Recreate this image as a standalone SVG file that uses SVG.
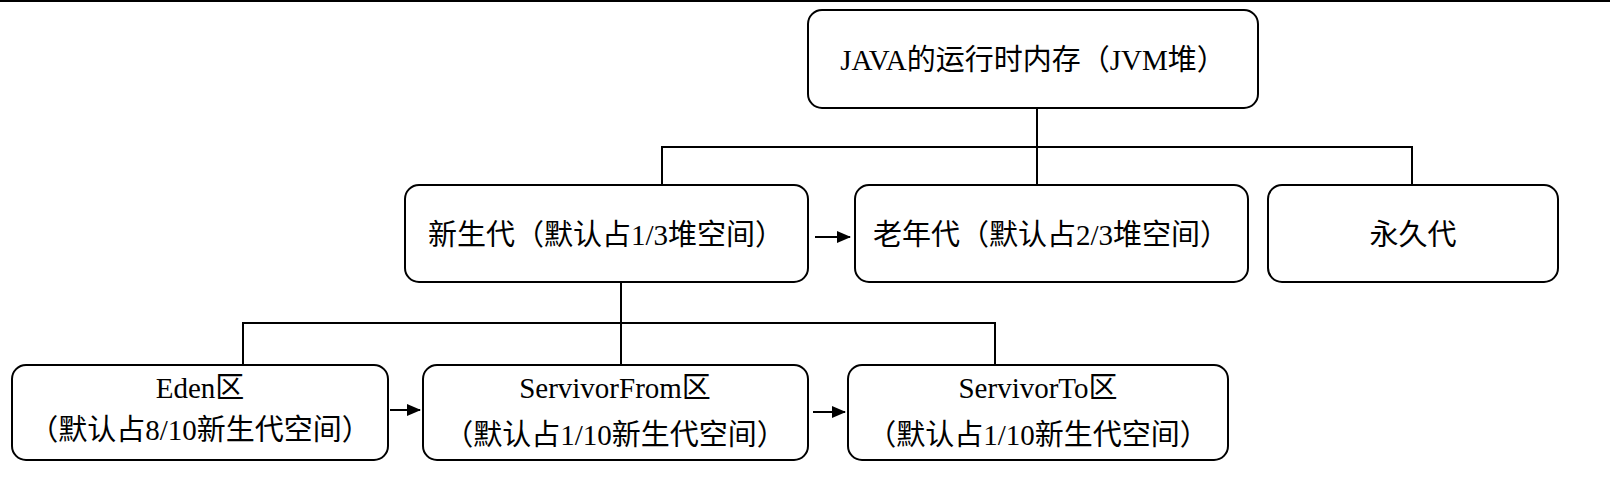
<svg xmlns="http://www.w3.org/2000/svg" width="1610" height="480" viewBox="0 0 1610 480">
<defs>
<style>
.b{fill:#fff;stroke:#000;stroke-width:2}
.t{font-family:"Liberation Serif","Noto Sans CJK SC",serif;font-size:29px;fill:#000;text-anchor:middle}
.c{fill:none;stroke:#000;stroke-width:2}
</style>
<marker id="a" markerWidth="14" markerHeight="12" refX="13" refY="6" orient="auto" markerUnits="userSpaceOnUse"><path d="M0,0L14,6L0,12z" fill="#000"/></marker>
</defs>
<rect width="1610" height="480" fill="#fff"/>
<line x1="0" y1="1" x2="1610" y2="1" stroke="#000" stroke-width="2"/>
<g id="connectors">
<path class="c" d="M1037,108V147M662,185V147H1412V185M1037,147V185"/>
<path class="c" d="M621,282V323M243,365V323H995V365M621,323V365"/>
<line class="c" x1="815" y1="237" x2="850" y2="237" marker-end="url(#a)"/>
<line class="c" x1="390" y1="410" x2="420" y2="410" marker-end="url(#a)"/>
<line class="c" x1="813" y1="412" x2="845" y2="412" marker-end="url(#a)"/>
</g>
<g id="root"><rect class="b" x="808" y="10" width="450" height="98" rx="14"/><text class="t" x="1033" y="70">JAVA的运行时内存（JVM堆）</text></g>
<g id="young"><rect class="b" x="405" y="185" width="403" height="97" rx="14"/><text class="t" x="606" y="245">新生代（默认占1/3堆空间）</text></g>
<g id="old"><rect class="b" x="855" y="185" width="393" height="97" rx="14"/><text class="t" x="1051" y="245">老年代（默认占2/3堆空间）</text></g>
<g id="perm"><rect class="b" x="1268" y="185" width="290" height="97" rx="14"/><text class="t" x="1413" y="245">永久代</text></g>
<g id="eden"><rect class="b" x="12" y="365" width="376" height="95" rx="14"/><text class="t" x="200" y="398">Eden区</text><text class="t" x="200" y="440">（默认占8/10新生代空间）</text></g>
<g id="from"><rect class="b" x="423" y="365" width="385" height="95" rx="14"/><text class="t" x="615" y="398">ServivorFrom区</text><text class="t" x="615" y="445">（默认占1/10新生代空间）</text></g>
<g id="to"><rect class="b" x="848" y="365" width="380" height="95" rx="14"/><text class="t" x="1038" y="398">ServivorTo区</text><text class="t" x="1038" y="445">（默认占1/10新生代空间）</text></g>
</svg>
